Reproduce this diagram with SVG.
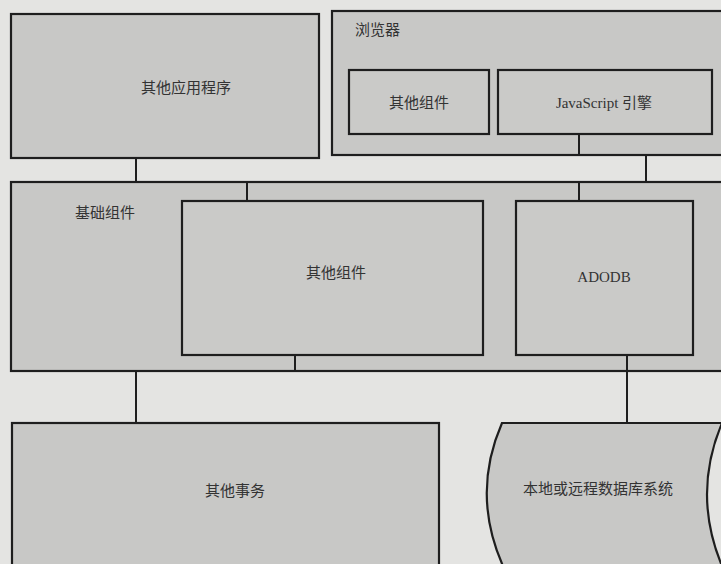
<svg xmlns="http://www.w3.org/2000/svg" width="721" height="564" viewBox="0 0 721 564">
<style>
.box{fill:#c8c8c6;stroke:#1e1e1e;stroke-width:2.2}
.inner{fill:#cacac8;stroke:#1e1e1e;stroke-width:2.2}
.lbl{font-family:"Liberation Serif","Noto Sans CJK SC",serif;font-size:15px;fill:#333;text-anchor:middle;dominant-baseline:central}
.tl{text-anchor:start}
.conn{stroke:#1e1e1e;stroke-width:2;fill:none}
</style>
<rect x="0" y="0" width="721" height="564" fill="#e4e4e2"/>
<g id="other-apps">
<rect class="box" x="11" y="14" width="308" height="144"/>
<text class="lbl" x="186" y="88">其他应用程序</text>
</g>
<g id="browser">
<rect class="box" x="332" y="11" width="395" height="144"/>
<text class="lbl tl" x="355" y="30">浏览器</text>
</g>
<g id="browser-other">
<rect class="inner" x="349" y="70" width="140" height="64"/>
<text class="lbl" x="419" y="103">其他组件</text>
</g>
<g id="js-engine">
<rect class="inner" x="498" y="70" width="214" height="64"/>
<text class="lbl" x="604" y="103">JavaScript 引擎</text>
</g>
<g id="base">
<rect class="box" x="11" y="182" width="716" height="189"/>
<text class="lbl" x="105" y="213">基础组件</text>
</g>
<g id="base-other">
<rect class="inner" x="182" y="201" width="301" height="154"/>
<text class="lbl" x="336" y="273">其他组件</text>
</g>
<g id="adodb">
<rect class="inner" x="516" y="201" width="177" height="154"/>
<text class="lbl" x="604" y="277">ADODB</text>
</g>
<g id="other-tasks">
<rect class="box" x="12" y="423" width="427" height="160"/>
<text class="lbl" x="235" y="491">其他事务</text>
</g>
<g id="database">
<path class="box" d="M502,423 L722,423 Q692,494 722,566 L503,566 Q471,494 502,423 Z"/>
<text class="lbl" x="598" y="489">本地或远程数据库系统</text>
</g>
<g id="connectors">
<line class="conn" x1="136" y1="158" x2="136" y2="182"/>
<line class="conn" x1="646" y1="155" x2="646" y2="182"/>
<line class="conn" x1="579" y1="134" x2="579" y2="155"/>
<line class="conn" x1="579" y1="182" x2="579" y2="201"/>
<line class="conn" x1="247" y1="182" x2="247" y2="201"/>
<line class="conn" x1="295" y1="355" x2="295" y2="371"/>
<line class="conn" x1="627" y1="355" x2="627" y2="423"/>
<line class="conn" x1="136" y1="371" x2="136" y2="423"/>
</g>
</svg>
